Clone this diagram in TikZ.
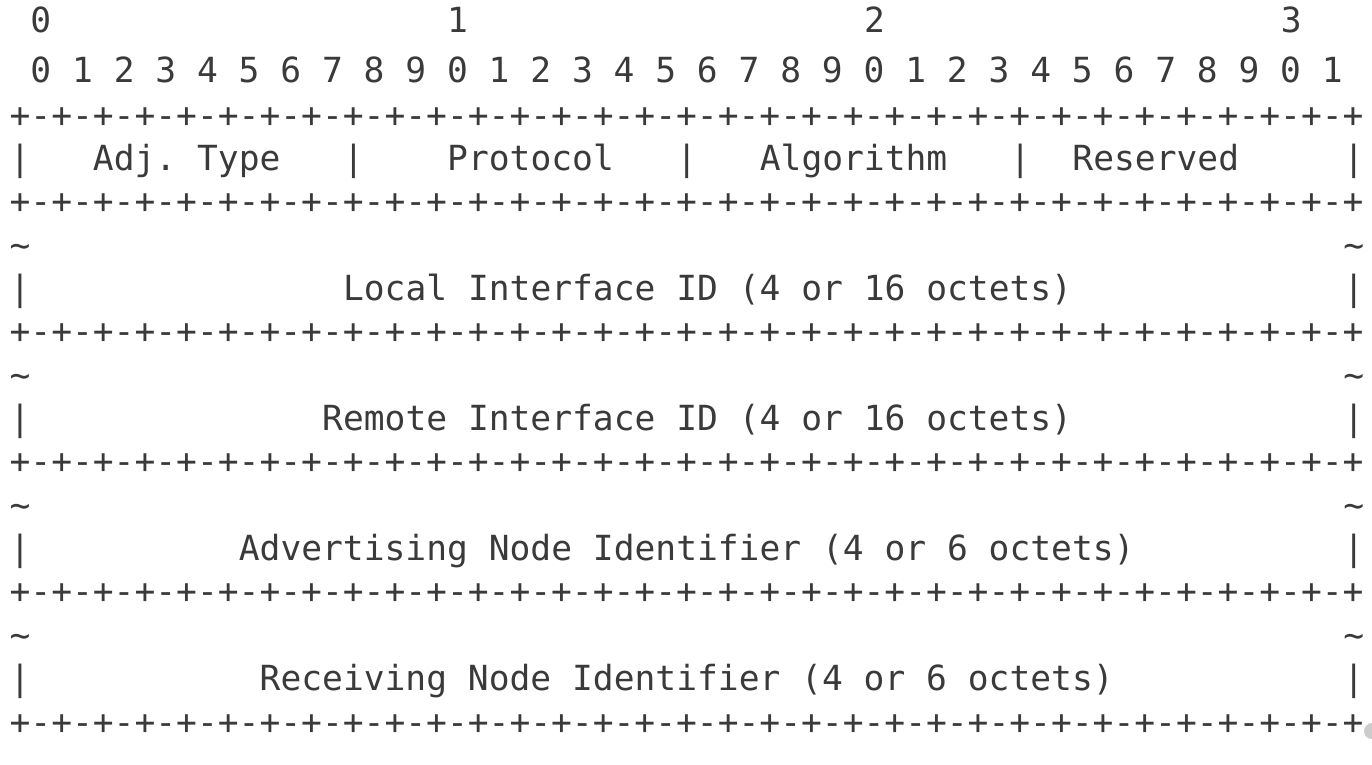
\documentclass[tikz,border=0pt]{standalone}
\usepackage{fontspec}
\newfontfamily\monofam{DejaVu Sans Mono}
\definecolor{ink}{HTML}{3A3A3A}
\def\plusrow{+-+-+-+-+-+-+-+-+-+-+-+-+-+-+-+-+-+-+-+-+-+-+-+-+-+-+-+-+-+-+-+-+}
\begin{document}
\begin{tikzpicture}[x=20.84pt, y=-43.36pt,
  ascii/.style={inner sep=0pt, outer sep=0pt, anchor=base west, text=ink,
    font=\monofam\fontsize{34.6}{40}\selectfont\frenchspacing}]
\useasboundingbox[fill=white] (0pt,0pt) rectangle (1372pt,-764pt);
\fill[black!20] (1372pt,-731pt) circle (8pt);
\begin{scope}[shift={(9.6pt,-40.28pt)}]
  % bit-number header
  \node[ascii] (h0) at (1,-0.17) {0};
  \node[ascii] (h1) at (21,-0.17) {1};
  \node[ascii] (h2) at (41,-0.17) {2};
  \node[ascii] (h3) at (61,-0.17) {3};
  \node[ascii] (bits) at (1,0.97) {0 1 2 3 4 5 6 7 8 9 0 1 2 3 4 5 6 7 8 9 0 1 2 3 4 5 6 7 8 9 0 1};
  % separator rows
  \foreach \r/\n in {2/sep0,4/sep1,7/sep2,10/sep3,13/sep4,16/sep5}
    \node[ascii] (\n) at (0,\r) {\plusrow};
  % first field row
  \node[ascii] (v0) at (0,3) {|};
  \node[ascii] (adj) at (4,3) {Adj. Type};
  \node[ascii] (v1) at (16,3) {|};
  \node[ascii] (proto) at (21,3) {Protocol};
  \node[ascii] (v2) at (32,3) {|};
  \node[ascii] (algo) at (36,3) {Algorithm};
  \node[ascii] (v3) at (48,3) {|};
  \node[ascii] (resv) at (51,3) {Reserved};
  \node[ascii] (v4) at (64,3) {|};
  % variable-length rows
  \foreach \r/\n in {5/t1,8/t2,11/t3,14/t4}{
    \node[ascii] (\n l) at (0,\r) {\string~};
    \node[ascii] (\n r) at (64,\r) {\string~};
  }
  \foreach \r/\n in {6/f1,9/f2,12/f3,15/f4}{
    \node[ascii] (\n l) at (0,\r) {|};
    \node[ascii] (\n r) at (64,\r) {|};
  }
  \node[ascii] (local) at (16,6) {Local Interface ID (4 or 16 octets)};
  \node[ascii] (remote) at (15,9) {Remote Interface ID (4 or 16 octets)};
  \node[ascii] (adv) at (11,12) {Advertising Node Identifier (4 or 6 octets)};
  \node[ascii] (recv) at (12,15) {Receiving Node Identifier (4 or 6 octets)};
\end{scope}
\end{tikzpicture}
\end{document}
